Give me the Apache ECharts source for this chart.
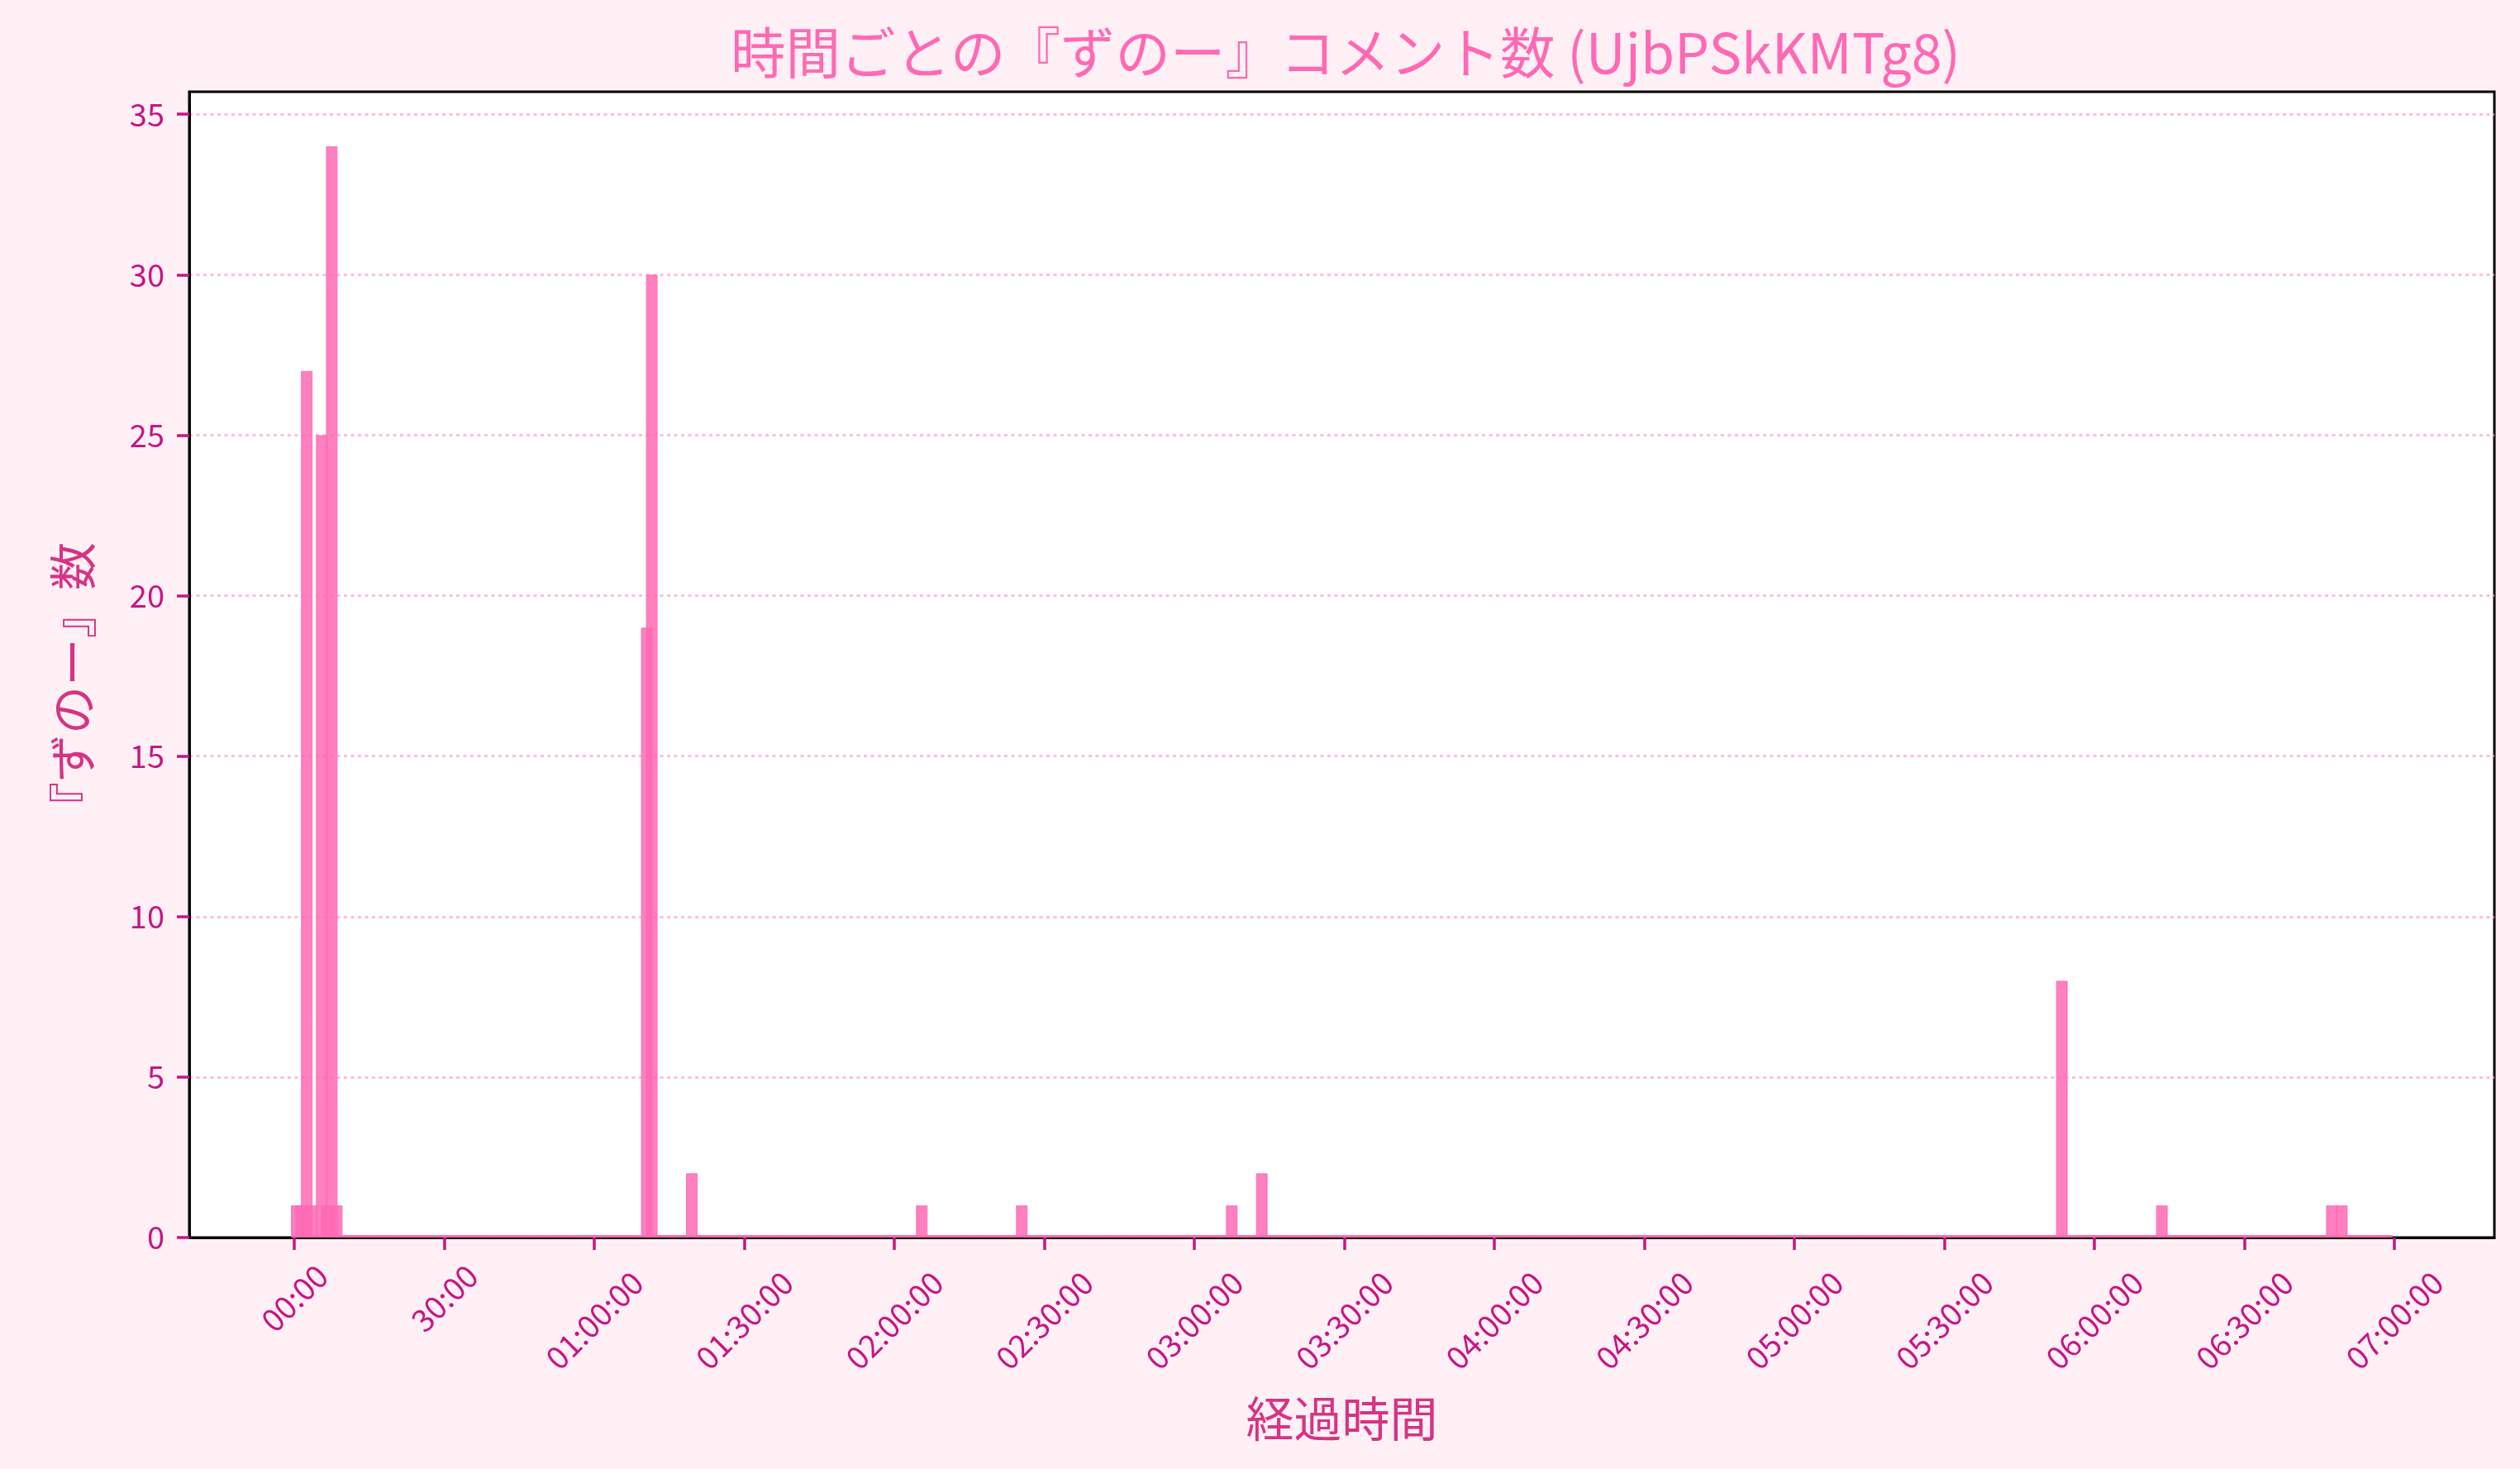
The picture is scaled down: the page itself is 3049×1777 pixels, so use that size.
<!DOCTYPE html>
<html>
<head>
<meta charset="utf-8">
<script src="https://cdn.jsdelivr.net/npm/echarts@6/dist/echarts.min.js"></script>
<style>
  html, body { margin: 0; padding: 0; background: #fff0f5; }
  #chart { width: 3049px; height: 1777px; }
</style>
</head>
<body>
<div id="chart"></div>
<script>
// 1分ごとのビン (0..418分)、ゼロ以外のビンだけ列挙
var binCount = 419;
var peakMinutes = [0, 1, 2, 3, 5, 6, 7, 8, 70, 71, 79, 125, 145, 187, 193, 353, 373, 407, 409];
var peakCounts  = [1, 1, 27, 1, 25, 1, 34, 1, 19, 30, 2, 1, 1, 1, 2, 8, 1, 1, 1];

// x軸の目盛り (分) とラベル
var tickMinutes = [0, 30, 60, 90, 120, 150, 180, 210, 240, 270, 300, 330, 360, 390, 420];
var tickLabels = ["00:00", "30:00", "01:00:00", "01:30:00", "02:00:00", "02:30:00", "03:00:00",
  "03:30:00", "04:00:00", "04:30:00", "05:00:00", "05:30:00", "06:00:00", "06:30:00", "07:00:00"];
var yTicks = [0, 5, 10, 15, 20, 25, 30, 35];

var FONT = "Noto Sans CJK JP";

var barData = [];
for (var m = 0; m < binCount; m++) {
  var idx = peakMinutes.indexOf(m);
  barData.push([m + 0.5, idx >= 0 ? peakCounts[idx] : 0]); // ビンの中心に配置
}

var chart = echarts.init(document.getElementById("chart"));
chart.setOption({
  backgroundColor: "#fff0f5",
  animation: false,
  title: {
    text: "時間ごとの『ずのー』コメント数 (UjbPSkKMTg8)",
    left: 1623,
    textAlign: "center",
    top: 25,
    textStyle: { color: "#ff69b4", fontSize: 66.5, fontWeight: "normal", fontFamily: FONT }
  },
  grid: {
    left: 229, right: 31, top: 111, bottom: 280,
    show: true,
    backgroundColor: "#ffffff",
    borderColor: "#000000",
    borderWidth: 3
  },
  xAxis: {
    type: "value",
    position: "bottom",
    min: -21,
    max: 440,
    name: "経過時間",
    nameLocation: "middle",
    nameGap: 190,
    nameTextStyle: { color: "#d63384", fontSize: 58, fontFamily: FONT },
    axisLine: { show: true, onZero: false, lineStyle: { color: "#000000", width: 3 } },
    splitLine: { show: false },
    axisTick: {
      show: true,
      inside: false,
      customValues: tickMinutes,
      length: 15,
      lineStyle: { color: "#c71585", width: 3.5 }
    },
    axisLabel: {
      customValues: tickMinutes,
      rotate: 45,
      align: "center",
      verticalAlign: "middle",
      margin: 100,
      color: "#c71585",
      fontSize: 38,
      fontFamily: FONT,
      formatter: function (v) {
        var i = tickMinutes.indexOf(v);
        var s = i >= 0 ? tickLabels[i] : "";
        return s.length < 8 ? "{s|" + s + "}" : s;
      },
      rich: {
        // 短いラベルは上端を揃えるため少し上へ
        s: { color: "#c71585", fontSize: 38, fontFamily: FONT, padding: [0, 0, 38, 38] }
      }
    }
  },
  yAxis: {
    type: "value",
    position: "left",
    min: 0,
    max: 35.7,
    interval: 5,
    name: "『ずのー』数",
    nameLocation: "middle",
    nameRotate: 90,
    nameGap: 112,
    nameTextStyle: { color: "#d63384", fontSize: 58, fontFamily: FONT, padding: [0, 52, 0, 0] },
    axisLine: { show: true, onZero: false, lineStyle: { color: "#000000", width: 3 } },
    axisTick: {
      show: true,
      inside: false,
      customValues: yTicks,
      length: 15,
      lineStyle: { color: "#c71585", width: 3.5 }
    },
    axisLabel: {
      customValues: yTicks,
      margin: 30,
      color: "#c71585",
      fontSize: 38,
      fontFamily: FONT
    },
    splitLine: {
      show: true,
      lineStyle: { color: "#ffb3d6", width: 2.5, type: [4, 4.5] }
    }
  },
  series: [
    {
      type: "bar",
      data: barData,
      barWidth: 14,
      barMinHeight: 3,
      itemStyle: {
        color: "rgba(255,105,180,0.85)",
        borderColor: "rgba(255,105,180,0.85)",
        borderWidth: 1
      }
    }
  ]
});
</script>
</body>
</html>
